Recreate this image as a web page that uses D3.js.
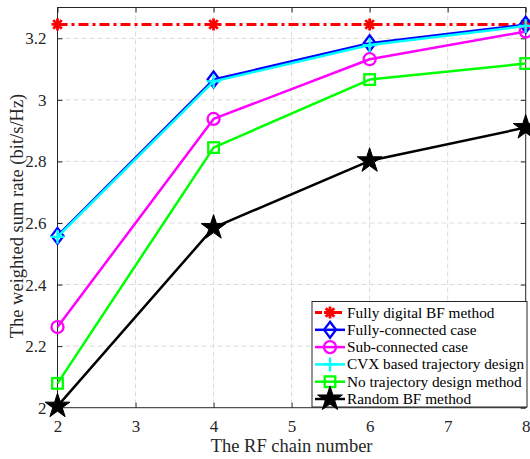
<!DOCTYPE html>
<html>
<head>
<meta charset="utf-8">
<script src="https://cdn.jsdelivr.net/npm/d3@7"></script>
<style>
  body { margin: 0; background: #fff; }
  svg { display: block; }
  .grid line { stroke: #dcdcdc; stroke-dasharray: 5 3; stroke-width: 1; }
  .axis path, .axis line { stroke: #262626; }
  .axis text { fill: #262626; font-size: 17px; }
</style>
</head>
<body>
<div id="chart"></div>
<script>
const rfChains = [2, 4, 6, 8];
const xTicks = [2, 3, 4, 5, 6, 7, 8];
const yTicks = [2, 2.2, 2.4, 2.6, 2.8, 3, 3.2];

const fullyDigital = [3.245, 3.245, 3.245, 3.245];
const fullyConnected = [2.558, 3.066, 3.184, 3.244];
const subConnected = [2.262, 2.938, 3.132, 3.222];
const cvxTrajectory = [2.555, 3.060, 3.178, 3.240];
const noTrajectory = [2.079, 2.845, 3.066, 3.118];
const randomBF = [2.005, 2.585, 2.802, 2.910];

const FONT = "'Liberation Serif', 'Times New Roman', serif";

const series = [
  { name: 'Fully digital BF method', values: fullyDigital, color: '#ff0000', marker: 'asterisk', dash: '10 4 3 4', width: 3 },
  { name: 'Fully-connected case', values: fullyConnected, color: '#0000ff', marker: 'diamond', width: 2.5 },
  { name: 'Sub-connected case', values: subConnected, color: '#ff00ff', marker: 'circle', width: 2.5 },
  { name: 'CVX based trajectory design', values: cvxTrajectory, color: '#00ffff', marker: 'plus', width: 2.5 },
  { name: 'No trajectory design method', values: noTrajectory, color: '#00ff00', marker: 'square', width: 2.5 },
  { name: 'Random BF method', values: randomBF, color: '#000000', marker: 'star', width: 2.5 },
];

const width = 530, height = 459;
const margin = { top: 7.5, right: 4.3, bottom: 51.3, left: 57.5 };
const innerW = width - margin.left - margin.right;
const innerH = height - margin.top - margin.bottom;

const svg = d3.select('#chart').append('svg').attr('width', width).attr('height', height)
  .attr('font-family', FONT);
const g = svg.append('g').attr('transform', `translate(${margin.left},${margin.top})`);

const x = d3.scaleLinear().domain([2, 8]).range([0, innerW]);
const y = d3.scaleLinear().domain([2, 3.3]).range([innerH, 0]);

// grid
g.append('g').attr('class', 'grid')
  .selectAll('line').data(xTicks.slice(1, -1)).join('line')
  .attr('x1', d => x(d)).attr('x2', d => x(d)).attr('y1', 0).attr('y2', innerH);
g.append('g').attr('class', 'grid')
  .selectAll('line').data(yTicks.slice(1)).join('line')
  .attr('x1', 0).attr('x2', innerW).attr('y1', d => y(d)).attr('y2', d => y(d));

// axes (MATLAB style, ticks inside, box)
const fmt = d => d3.format('')(+d.toFixed(1));
g.append('g').attr('class', 'axis').attr('transform', `translate(0,${innerH})`)
  .call(d3.axisBottom(x).tickValues(xTicks).tickSize(-5).tickPadding(12).tickFormat(fmt))
  .call(a => a.select('.domain').remove())
  .attr('font-family', FONT);
g.append('g').attr('class', 'axis')
  .call(d3.axisLeft(y).tickValues(yTicks).tickSize(-5).tickPadding(11).tickFormat(fmt))
  .call(a => a.select('.domain').remove())
  .attr('font-family', FONT);
g.append('g').attr('class', 'axis')
  .call(d3.axisTop(x).tickValues(xTicks).tickSize(-5).tickFormat(''))
  .call(a => a.select('.domain').remove());
g.append('g').attr('class', 'axis').attr('transform', `translate(${innerW},0)`)
  .call(d3.axisRight(y).tickValues(yTicks).tickSize(-5).tickFormat(''))
  .call(a => a.select('.domain').remove());
g.append('rect').attr('width', innerW).attr('height', innerH)
  .attr('fill', 'none').attr('stroke', '#262626').attr('stroke-width', 1);

// markers
function drawMarker(sel, type, color) {
  if (type === 'circle') {
    sel.append('circle').attr('r', 6).attr('fill', 'none').attr('stroke', color).attr('stroke-width', 2.3);
  } else if (type === 'square') {
    sel.append('rect').attr('x', -5.3).attr('y', -5.3).attr('width', 10.6).attr('height', 10.6)
      .attr('fill', 'none').attr('stroke', color).attr('stroke-width', 2.3);
  } else if (type === 'diamond') {
    sel.append('path').attr('d', 'M0,-8L6,0L0,8L-6,0Z')
      .attr('fill', 'none').attr('stroke', color).attr('stroke-width', 2.3);
  } else if (type === 'plus') {
    sel.append('path').attr('d', 'M-7,0H7M0,-7V7').attr('stroke', color).attr('stroke-width', 2.3);
  } else if (type === 'asterisk') {
    sel.append('path').attr('d', 'M-6,0H6M0,-6V6M-4.3,-4.3L4.3,4.3M-4.3,4.3L4.3,-4.3')
      .attr('stroke', color).attr('stroke-width', 2.8);
  } else if (type === 'star') {
    sel.append('path').attr('d', d3.symbol(d3.symbolStar, 190)()).attr('fill', color).attr('stroke', color).attr('stroke-width', 1);
  }
}

const line = d3.line().x((d, i) => x(rfChains[i])).y(d => y(d));

series.forEach(s => {
  const sg = g.append('g');
  sg.append('path').attr('d', line(s.values)).attr('fill', 'none')
    .attr('stroke', s.color).attr('stroke-width', s.width)
    .attr('stroke-dasharray', s.dash || null).attr('stroke-linejoin', 'round');
  s.values.forEach((v, i) => {
    const m = sg.append('g').attr('transform', `translate(${x(rfChains[i])},${y(v)})`);
    drawMarker(m, s.marker, s.color);
  });
});

// axis labels
svg.append('text').attr('x', margin.left + innerW / 2).attr('y', 452)
  .attr('text-anchor', 'middle').attr('font-size', 18.5).attr('fill', '#262626')
  .text('The RF chain number');
svg.append('text').attr('transform', `translate(23,216) rotate(-90)`)
  .attr('text-anchor', 'middle').attr('font-size', 18.5).attr('fill', '#262626')
  .text('The weighted sum rate (bit/s/Hz)');

// legend
const lx = 312, ly = 301.5, lw = 215, lh = 105.5, rowH = 17.3;
const legend = svg.append('g');
legend.append('rect').attr('x', lx).attr('y', ly).attr('width', lw).attr('height', lh)
  .attr('fill', '#fff').attr('stroke', '#262626').attr('stroke-width', 1);
series.forEach((s, i) => {
  const cy = ly + 11 + i * rowH;
  const row = legend.append('g');
  row.append('line').attr('x1', lx + 3).attr('x2', lx + 33).attr('y1', cy).attr('y2', cy)
    .attr('stroke', s.color).attr('stroke-width', s.width).attr('stroke-dasharray', s.dash ? '7 3' : null);
  drawMarker(row.append('g').attr('transform', `translate(${lx + 18},${cy})`), s.marker, s.color);
  row.append('text').attr('x', lx + 35).attr('y', cy + 5).attr('font-size', 15.3).attr('fill', '#000')
    .text(s.name);
});
</script>
</body>
</html>
